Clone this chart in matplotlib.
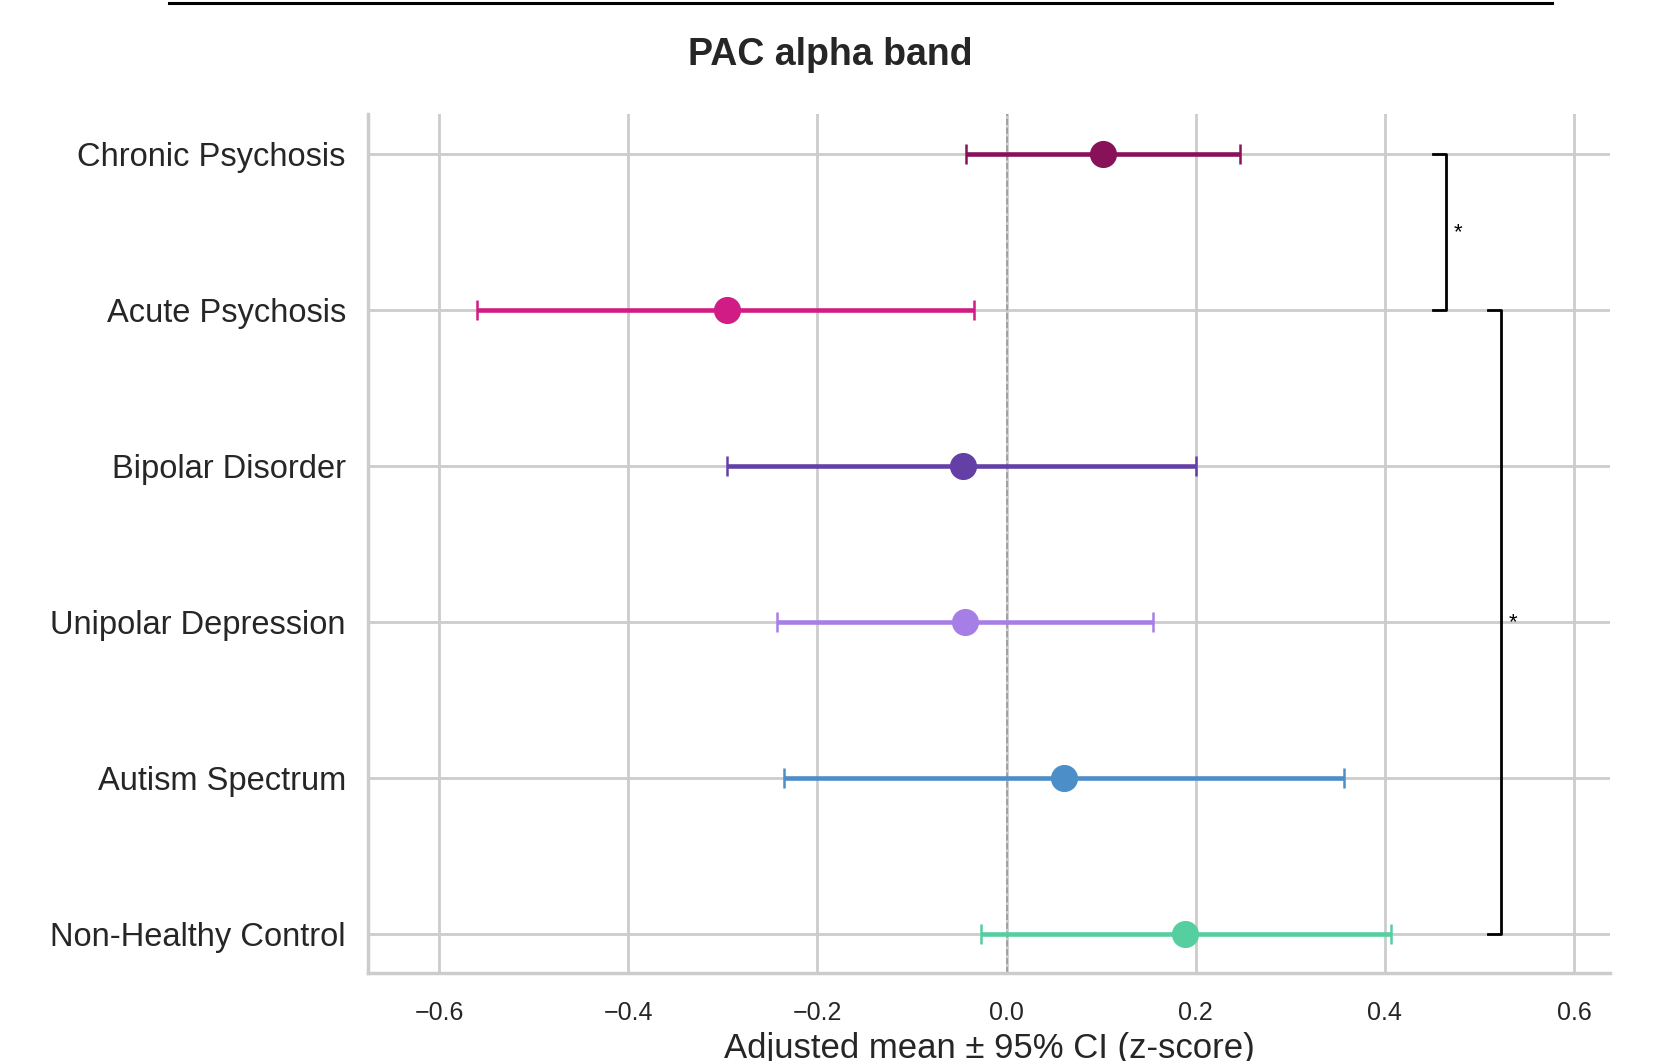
import matplotlib.pyplot as plt
import numpy as np
from matplotlib.lines import Line2D

groups = ['Chronic Psychosis', 'Acute Psychosis', 'Bipolar Disorder',
          'Unipolar Depression', 'Autism Spectrum', 'Non-Healthy Control']
means = [0.102, -0.296, -0.046, -0.044, 0.061, 0.189]
ci_low = [-0.043, -0.560, -0.295, -0.243, -0.235, -0.027]
ci_high = [0.247, -0.034, 0.200, 0.155, 0.357, 0.406]
colors = ['#87125a', '#d01c84', '#6440a6', '#a67fe6', '#4b8ec8', '#55cfa0']

# significance brackets: (row a, row b, x position)
brackets = [(0, 1, 0.465), (1, 5, 0.523)]

plt.rcParams['font.family'] = ['Liberation Sans', 'DejaVu Sans']
plt.rcParams['text.color'] = '#262626'
plt.rcParams['xtick.labelcolor'] = '#262626'
plt.rcParams['ytick.labelcolor'] = '#262626'
plt.rcParams['axes.labelcolor'] = '#262626'

fig = plt.figure(figsize=(16.55, 10.61), dpi=100)
ax = fig.add_axes([0.2224, 0.0829, 0.7504, 0.8097])

y = np.arange(len(groups))
for i in range(len(groups)):
    ax.errorbar(means[i], y[i],
                xerr=[[means[i] - ci_low[i]], [ci_high[i] - means[i]]],
                fmt='o', color=colors[i], markersize=18.5, elinewidth=3.3,
                capsize=7, capthick=1.8, zorder=3)

ax.axvline(0, color='#999999', linestyle='--', linewidth=1.2, zorder=2)

# brackets
tick = 0.014
for a, b, xb in brackets:
    ax.plot([xb - tick, xb, xb, xb - tick], [y[a], y[a], y[b], y[b]],
            color='black', linewidth=2, zorder=3)
    ax.text(xb + 0.008, (y[a] + y[b]) / 2, '*', fontsize=16,
            ha='left', va='center', color='black')

ax.set_xlim(-0.675, 0.638)
ax.set_ylim(5.25, -0.26)
ax.set_yticks(y)
ax.set_yticklabels(groups, fontsize=23.5)
ax.set_xticks([-0.6, -0.4, -0.2, 0.0, 0.2, 0.4, 0.6])
ax.set_xticklabels(['\u22120.6', '\u22120.4', '\u22120.2', '0.0', '0.2', '0.4', '0.6'],
                   fontsize=18)
ax.tick_params(axis='x', length=0, pad=20)
ax.tick_params(axis='y', length=0, pad=16)
ax.grid(True, color='#cccccc', linewidth=2, zorder=0)
ax.set_axisbelow(True)
for s in ['top', 'right']:
    ax.spines[s].set_visible(False)
for s in ['left', 'bottom']:
    ax.spines[s].set_color('#cccccc')
    ax.spines[s].set_linewidth(2.5)

ax.set_xlabel('Adjusted mean \u00b1 95% CI (z-score)', fontsize=25, labelpad=5)

fig.text(0.5015, 0.948, 'PAC alpha band', fontsize=27, fontweight='bold',
         ha='center', va='center')
fig.add_artist(Line2D([169 / 1655, 1552 / 1655], [0.997, 0.997],
                      color='black', linewidth=2.2, transform=fig.transFigure))

fig.savefig('out.png', dpi=100)
